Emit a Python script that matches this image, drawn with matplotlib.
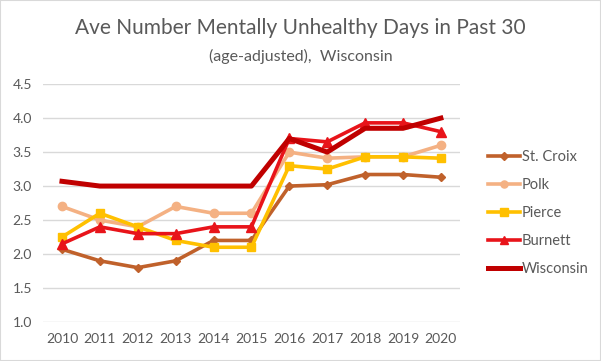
import numpy as np
import matplotlib.pyplot as plt

plt.rcParams['font.family'] = ['Lato', 'DejaVu Sans']

years = ['2010', '2011', '2012', '2013', '2014', '2015', '2016', '2017', '2018', '2019', '2020']
st_croix  = [2.07, 1.90, 1.80, 1.90, 2.20, 2.20, 3.00, 3.02, 3.17, 3.17, 3.13]
polk      = [2.70, 2.50, 2.40, 2.70, 2.60, 2.60, 3.50, 3.41, 3.43, 3.43, 3.60]
pierce    = [2.25, 2.60, 2.40, 2.20, 2.10, 2.10, 3.30, 3.25, 3.43, 3.43, 3.41]
burnett   = [2.15, 2.40, 2.30, 2.30, 2.40, 2.40, 3.70, 3.65, 3.93, 3.93, 3.80]
wisconsin = [3.07, 3.00, 3.00, 3.00, 3.00, 3.00, 3.70, 3.50, 3.85, 3.85, 4.00]

fig = plt.figure(figsize=(6.01, 3.61), dpi=100)
ax = fig.add_axes([0.0716, 0.108, 0.6935, 0.659])

x = np.arange(len(years))
ax.plot(x, st_croix, color='#C0612B', lw=2.6, marker='D', ms=4.5, label='St. Croix')
ax.plot(x, polk, color='#F4B183', lw=2.6, marker='o', ms=6, label='Polk')
ax.plot(x, pierce, color='#FFC000', lw=2.6, marker='s', ms=6, label='Pierce')
ax.plot(x, burnett, color='#E8141A', lw=2.6, marker='^', ms=6.5, label='Burnett')
ax.plot(x, wisconsin, color='#C00000', lw=3.6, label='Wisconsin')

ax.set_xlim(-0.5, 10.5)
ax.set_ylim(1.0, 4.5)
ax.set_yticks(np.arange(1.0, 4.51, 0.5))
ax.set_yticklabels([f'{v:.1f}' for v in np.arange(1.0, 4.51, 0.5)])
ax.set_xticks(x)
ax.set_xticklabels(years)
ax.grid(axis='y', color='#D9D9D9', lw=1)
ax.set_axisbelow(True)
for s in ax.spines.values():
    s.set_visible(False)
ax.tick_params(length=0, labelsize=10, colors='#595959', pad=8)

ax.legend(loc='center left', bbox_to_anchor=(1.037, 0.458), frameon=False,
          fontsize=10.5, labelcolor='#595959', handlelength=2.2,
          handletextpad=0.1, labelspacing=0.95, markerscale=0.85)

fig.text(0.5, 0.905, 'Ave Number Mentally Unhealthy Days in Past 30',
         ha='center', fontsize=15, color='#595959')
fig.text(0.5, 0.832, '(age-adjusted),  Wisconsin', ha='center',
         fontsize=11.5, color='#595959')

fig.patches.append(plt.Rectangle((0, 0), 1, 1, transform=fig.transFigure,
                                 fill=False, ec='#D9D9D9', lw=1.5))
fig.savefig('out.png', dpi=100)
